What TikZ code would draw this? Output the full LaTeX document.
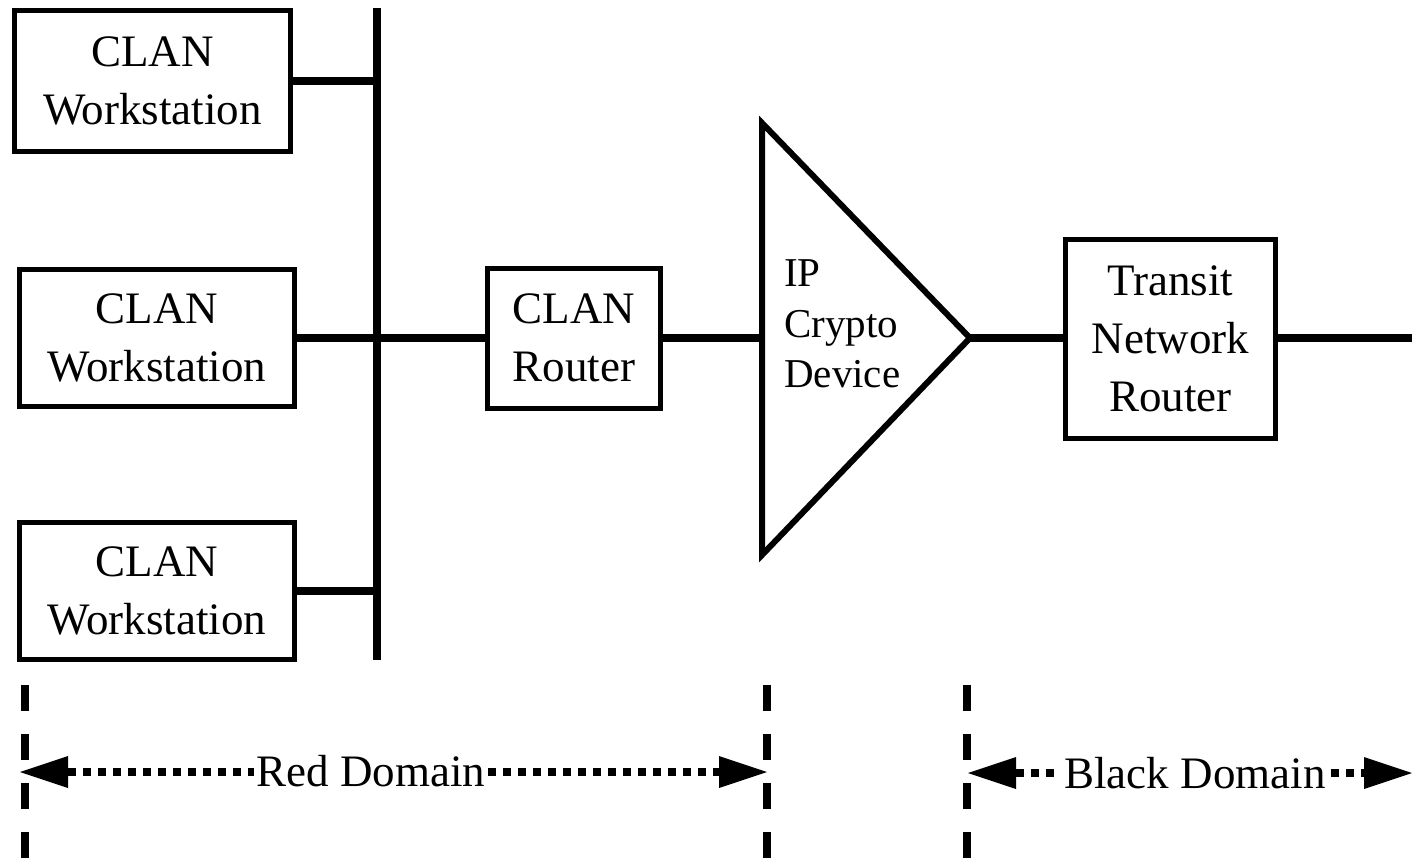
\documentclass[tikz,border=0pt]{standalone}
\usepackage{fontspec}
\setmainfont{Liberation Serif}
\usetikzlibrary{arrows.meta}
\begin{document}
\begin{tikzpicture}[x=1pt,y=-1pt,
  box/.style={draw, line width=5pt, fill=white, align=center, inner sep=0pt,
    font=\fontsize{45}{58}\selectfont},
  link/.style={line width=8pt},
  bound/.style={line width=8pt, dash pattern=on 26pt off 23pt},
  tip/.style={Triangle[length=48pt, width=32pt, line width=0pt]},
  span/.style={line width=8pt, dash pattern=on 8pt off 7pt, {Triangle[length=48pt, width=32pt, line width=0pt]}-{Triangle[length=48pt, width=32pt, line width=0pt]}},
  lbl/.style={fill=white, inner sep=3pt, font=\fontsize{45}{54}\selectfont}]
\useasboundingbox (0,0) rectangle (1412,861);

% LAN bus
\coordinate (busN) at (377,8);
\coordinate (busS) at (377,660);
\draw[link] (busN) -- (busS);

% workstations and router
\node[box, minimum width=276pt, minimum height=141pt] (ws1) at (152.5,81) {CLAN\\Workstation};
\node[box, minimum width=275pt, minimum height=137pt] (ws2) at (157,338) {CLAN\\Workstation};
\node[box, minimum width=275pt, minimum height=137pt] (ws3) at (157,590.5) {CLAN\\Workstation};
\node[box, minimum width=173pt, minimum height=140pt] (router) at (574,338) {CLAN\\Router};
\node[box, minimum width=210pt, minimum height=199pt] (transit) at (1170.5,339) {Transit\\Network\\Router};

\draw[link] (ws1.east) -- (ws1.east -| busN);
\draw[link] (ws3.east) -- (ws3.east -| busN);
\draw[link] (ws2.east) -- (router.west);

% crypto device
\coordinate (cTop) at (762,123);
\coordinate (cBot) at (762,555);
\coordinate (cTip) at (970,338);
\coordinate (cIn) at (762,338);
\draw[line width=6pt, line join=miter] (cTop) -- (cTip) -- (cBot) -- cycle;
\node[anchor=west, align=left, inner sep=0pt, font=\fontsize{41}{50.5}\selectfont] (cryptoTxt) at (784,324) {IP\\Crypto\\Device};

\draw[link] (router.east) -- (cIn);
\draw[link] (cTip) -- (cTip -| transit.west);
\coordinate (wan) at (1412,338);
\draw[link] (transit.east |- wan) -- (wan);

% domain boundaries
\coordinate (b1N) at (25,685);   \coordinate (b1S) at (25,861);
\coordinate (b2N) at (767,685);  \coordinate (b2S) at (767,861);
\coordinate (b3N) at (967,685);  \coordinate (b3S) at (967,861);
\draw[bound] (b1N) -- (b1S);
\draw[bound] (b2N) -- (b2S);
\draw[bound] (b3N) -- (b3S);

% domain spans
\coordinate (redW) at (20,772);  \coordinate (redE) at (767,772);
\coordinate (blkW) at (968,773); \coordinate (blkE) at (1412,773);
\draw[span] (redW) -- (redE);
\draw[span] (blkW) -- (blkE);
\node[lbl] (redTxt) at (371,771) {Red Domain};
\node[lbl] (blkTxt) at (1195,773) {Black Domain};
\end{tikzpicture}
\end{document}
